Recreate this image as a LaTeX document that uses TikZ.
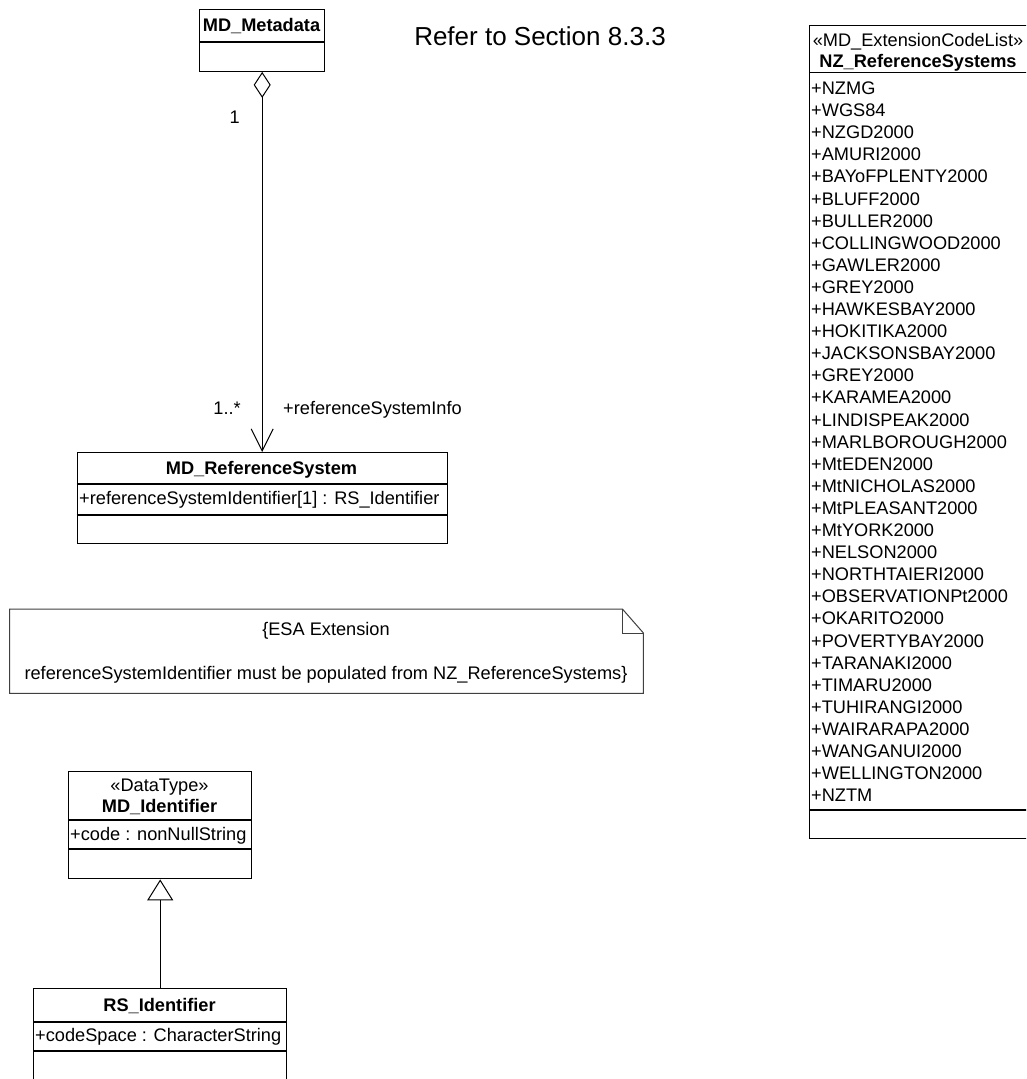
\documentclass[tikz,border=0pt]{standalone}
\usepackage{fontspec}
\setmainfont{Liberation Sans}
\usetikzlibrary{arrows.meta}
\begin{document}
\begin{tikzpicture}[x=1pt,y=-1pt,
  classbox/.style={draw=black, line width=1.4pt, inner sep=0pt, anchor=north west},
  sep/.style={draw=black, line width=1.4pt},
  txt/.style={inner sep=0pt, anchor=base, font=\fontsize{18.2}{22}\selectfont},
  btxt/.style={txt, font=\fontsize{18.2}{22}\selectfont\bfseries},
  ltxt/.style={txt, anchor=base west},
  link/.style={draw=black, line width=1pt},
  notel/.style={draw=black!75, line width=1pt},
]
\useasboundingbox (0,0) rectangle (1026,1079);
\clip (0,0) rectangle (1026,1079);
\fill[white] (0,0) rectangle (1026,1079);

% MD_Metadata class
\node[classbox, minimum width=125pt, minimum height=62pt] (meta) at (199,8.5) {};
\draw[sep] (199,42) -- (324,42);
\node[btxt] (metaname) at (261.5,31.5) {MD\_Metadata};

% heading
\node[txt, font=\fontsize{26}{30}\selectfont] (refer) at (540,45) {Refer to Section 8.3.3};

% MD_ReferenceSystem class
\node[classbox, minimum width=370pt, minimum height=91pt] (refsys) at (76.5,452) {};
\draw[sep] (76.5,484) -- (446.5,484);
\draw[sep] (76.5,515) -- (446.5,515);
\node[btxt] (refsysname) at (261.5,474.5) {MD\_ReferenceSystem};
\node[ltxt] (refsysattr) at (79,504.5) {+referenceSystemIdentifier[1] : RS\_Identifier};

% aggregation
\draw[link, {Diamond[open,length=26pt,width=17pt]}-{Straight Barb[length=22pt,width=22pt]}]
  (meta.south) -- (refsys.north);
\node[txt] (m1) at (234.6,123.5) {1};
\node[txt, anchor=base east] (m2) at (241,414.5) {1..*};
\node[ltxt] (role) at (283,414.5) {+referenceSystemInfo};

% constraint note
\node[inner sep=0pt, minimum width=633.5pt, minimum height=84pt, anchor=north west] (note) at (9.5,609) {};
\draw[notel] (note.north west) -- ([xshift=-21pt]note.north east)
  -- ([yshift=-24pt]note.north east) -- (note.south east) -- (note.south west) -- cycle;
\draw[notel] ([xshift=-21pt]note.north east) |- ([yshift=-24pt]note.north east);
\node[txt] (note1) at (326,635.5) {\{ESA Extension};
\node[txt] (note2) at (326,679.5) {referenceSystemIdentifier must be populated from NZ\_ReferenceSystems\}};

% MD_Identifier data type
\node[classbox, minimum width=183pt, minimum height=107pt] (mdid) at (68,771) {};
\draw[sep] (68,820) -- (251,820);
\draw[sep] (68,849) -- (251,849);
\node[txt] (mdidst) at (159.5,791.5) {«DataType»};
\node[btxt] (mdidname) at (159.5,812.5) {MD\_Identifier};
\node[ltxt] (mdidattr) at (70,840.5) {+code : nonNullString};

% RS_Identifier class
\node[classbox, minimum width=253pt, minimum height=130pt] (rsid) at (33,988) {};
\draw[sep] (33,1022) -- (286,1022);
\draw[sep] (33,1051) -- (286,1051);
\node[btxt] (rsidname) at (159.5,1011.5) {RS\_Identifier};
\node[ltxt] (rsidattr) at (35,1041.5) {+codeSpace : CharacterString};

% generalization
\draw[link, -{Triangle[open,length=21pt,width=26pt]}] (rsid.north) -- (mdid.south);

% NZ_ReferenceSystems code list
\node[classbox, minimum width=218pt, minimum height=813pt] (nz) at (809,25) {};
\draw[sep] (809,72.7) -- (1027,72.7);
\draw[sep] (809,810) -- (1027,810);
\node[txt] (nzst) at (918,46.5) {«MD\_ExtensionCodeList»};
\node[btxt] (nzname) at (918,67.5) {NZ\_ReferenceSystems};
\foreach \t [count=\i from 0] in {NZMG,WGS84,NZGD2000,AMURI2000,BAYoFPLENTY2000,BLUFF2000,
  BULLER2000,COLLINGWOOD2000,GAWLER2000,GREY2000,HAWKESBAY2000,HOKITIKA2000,
  JACKSONSBAY2000,GREY2000,KARAMEA2000,LINDISPEAK2000,MARLBOROUGH2000,MtEDEN2000,
  MtNICHOLAS2000,MtPLEASANT2000,MtYORK2000,NELSON2000,NORTHTAIERI2000,
  OBSERVATIONPt2000,OKARITO2000,POVERTYBAY2000,TARANAKI2000,TIMARU2000,
  TUHIRANGI2000,WAIRARAPA2000,WANGANUI2000,WELLINGTON2000,NZTM}
  \node[ltxt] (nz\i) at (811,{94.5+22.1*\i}) {+\t};
\end{tikzpicture}
\end{document}
